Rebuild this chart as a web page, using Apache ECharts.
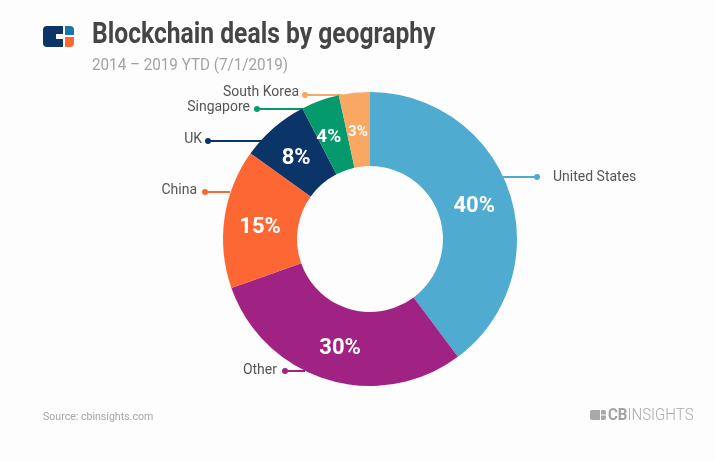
<!DOCTYPE html>
<html>
<head>
<meta charset="utf-8">
<style>html,body{margin:0;padding:0;background:#fff}</style>
<script src="https://cdn.jsdelivr.net/npm/echarts@6/dist/echarts.min.js"></script>
</head>
<body>
<div id="main" style="width:715px;height:461px"></div>
<script>
var categories = ['United States', 'Other', 'China', 'UK', 'Singapore', 'South Korea'];
// slice sizes as read from the arcs, printed labels are the rounded ones
var shares = [39.8, 29.8, 15.3, 7.5, 4.2, 3.4];
var shareLabels = ['40%', '30%', '15%', '8%', '4%', '3%'];
var colors = ['#4fabd0', '#a02383', '#fd6733', '#0b3468', '#049a6c', '#f8a863'];
var insideSizes = [22, 22, 22, 22, 19, 15];
var insideOffsets = [[-3, 3], [3, 1], [2, 4], [0, 5], [-3, 5], [0, 6]];

// leader line ends: [arc end x, y, dot x, y, label x, label y, label align]
var leaders = [
    [503, 177, 537, 177, 553, 177, 'left'],
    [305, 371, 285, 371, 277, 370, 'right'],
    [230, 192, 205, 192, 197, 190, 'right'],
    [262, 141, 208, 141, 202, 139, 'right'],
    [303, 109, 257, 109, 250, 107, 'right'],
    [342, 95, 305, 95, 299, 92, 'right']
];

var chart = echarts.init(document.getElementById('main'));

var font = 'Roboto';
var graphics = leaders.map(function (l, i) {
    return {
        type: 'circle',
        z: 10,
        shape: { cx: l[2], cy: l[3], r: 3 },
        style: { fill: colors[i] }
    };
});

// logo
graphics.push(
    { type: 'rect', shape: { x: 43, y: 26, width: 20, height: 21, r: [4, 0, 0, 4] }, style: { fill: '#0b3468' } },
    { type: 'rect', shape: { x: 56, y: 34, width: 7, height: 5 }, style: { fill: '#fdfdfd' } },
    { type: 'rect', shape: { x: 65, y: 26, width: 9, height: 9, r: [0, 4, 0, 0] }, style: { fill: '#1877a9' } },
    { type: 'rect', shape: { x: 65, y: 37, width: 9, height: 10, r: [0, 0, 4, 0] }, style: { fill: '#fd6733' } },
    // title block
    {
        type: 'text', x: 92, y: 21, scaleX: 0.85,
        style: { text: 'Blockchain deals by geography', fontFamily: font, fontWeight: 'bold', fontSize: 29, fill: '#454545' }
    },
    {
        type: 'text', x: 92, y: 58, scaleX: 0.95,
        style: { text: '2014 \u2013 2019 YTD (7/1/2019)', fontFamily: font, fontSize: 16, fill: '#a2a2a2' }
    },
    // footer logo
    { type: 'rect', shape: { x: 590, y: 410, width: 10, height: 10, r: [2, 0, 0, 2] }, style: { fill: '#a9a9a9' } },
    { type: 'rect', shape: { x: 601, y: 410, width: 5, height: 4.5, r: [0, 2, 0, 0] }, style: { fill: '#a9a9a9' } },
    { type: 'rect', shape: { x: 601, y: 415.5, width: 5, height: 4.5, r: [0, 0, 2, 0] }, style: { fill: '#a9a9a9' } },
    {
        type: 'text', x: 608, y: 408, scaleX: 0.94,
        style: {
            text: '{b|CB}{l|INSIGHTS}',
            rich: {
                b: { fontFamily: font, fontWeight: 'bold', fontSize: 16, fill: '#a3a3a3' },
                l: { fontFamily: font, fontWeight: 300, fontSize: 16, fill: '#ababab' }
            }
        }
    },
    {
        type: 'text', x: 43, y: 411, scaleX: 0.92,
        style: { text: 'Source: cbinsights.com', fontFamily: font, fontSize: 11.5, fill: '#a5a5a5' }
    }
);

var option = {
    backgroundColor: '#fdfdfd',
    animation: false,
    graphic: graphics,
    series: [
        {
            type: 'pie',
            center: [370, 239],
            radius: [73, 147],
            startAngle: 90,
            clockwise: true,
            silent: true,
            label: {
                position: 'inside',
                fontFamily: font,
                fontWeight: 'bold',
                color: '#fff'
            },
            labelLine: { show: false },
            data: categories.map(function (c, i) {
                return {
                    name: c,
                    value: shares[i],
                    itemStyle: { color: colors[i] },
                    label: { fontSize: insideSizes[i], formatter: shareLabels[i], offset: insideOffsets[i] }
                };
            })
        },
        {
            // transparent copy, only carries the outer names and leader lines
            type: 'pie',
            center: [370, 239],
            radius: [73, 147],
            startAngle: 90,
            silent: true,
            itemStyle: { color: 'transparent' },
            label: {
                position: 'outside',
                formatter: '{b}',
                fontFamily: font,
                fontSize: 14,
                color: '#555'
            },
            labelLine: { show: true, lineStyle: { width: 2 } },
            labelLayout: function (p) {
                var l = leaders[p.dataIndex];
                return {
                    x: l[4],
                    y: l[5],
                    align: l[6],
                    verticalAlign: 'middle',
                    labelLinePoints: [[l[0], l[1]], [l[2], l[3]], [l[2], l[3]]]
                };
            },
            data: categories.map(function (c, i) {
                return {
                    name: c,
                    value: shares[i],
                    labelLine: { lineStyle: { color: colors[i] } }
                };
            })
        }
    ]
};

chart.setOption(option);
</script>
</body>
</html>
